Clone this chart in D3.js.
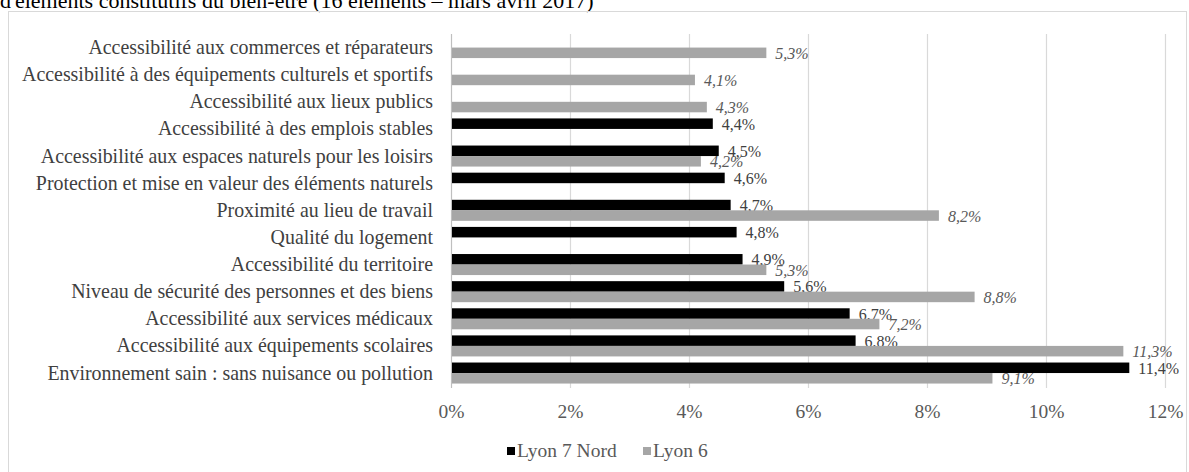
<!DOCTYPE html>
<html><head><meta charset="utf-8">
<script src="https://cdn.jsdelivr.net/npm/d3@7"></script>
<style>body{margin:0;background:#fff;}svg{display:block;}</style>
</head><body>
<script>
const categories = [
  "Accessibilité aux commerces et réparateurs",
  "Accessibilité à des équipements culturels et sportifs",
  "Accessibilité aux lieux publics",
  "Accessibilité à des emplois stables",
  "Accessibilité aux espaces naturels pour les loisirs",
  "Protection et mise en valeur des éléments naturels",
  "Proximité au lieu de travail",
  "Qualité du logement",
  "Accessibilité du territoire",
  "Niveau de sécurité des personnes et des biens",
  "Accessibilité aux services médicaux",
  "Accessibilité aux équipements scolaires",
  "Environnement sain : sans nuisance ou pollution"
];
const lyon7Nord = [null, null, null, 4.4, 4.5, 4.6, 4.7, 4.8, 4.9, 5.6, 6.7, 6.8, 11.4];
const lyon6 = [5.3, 4.1, 4.3, null, 4.2, null, 8.2, null, 5.3, 8.8, 7.2, 11.3, 9.1];
const seriesNames = ["Lyon 7 Nord", "Lyon 6"];
const tickValues = [0, 2, 4, 6, 8, 10, 12];
const titleText = "d'éléments constitutifs du bien-être (16 éléments – mars avril 2017)";

const W = 1189, H = 472;
const svg = d3.select("body").append("svg").attr("width", W).attr("height", H)
  .style("font-family", '"Liberation Serif", "DejaVu Serif", serif');

// title (cut at top)
svg.append("text").attr("x", 0).attr("y", 8)
  .attr("font-size", 22).attr("fill", "#000").text(titleText);

// chart border
svg.append("rect").attr("x", 8.5).attr("y", 11.5).attr("width", 1178).attr("height", 470)
  .attr("fill", "none").attr("stroke", "#d9d9d9");

const x = d3.scaleLinear().domain([0, 12]).range([451, 1165]);
const y = d3.scaleBand().domain(categories).range([34, 386.6]).paddingInner(0.225).paddingOuter(0.1125);
const sub = d3.scaleBand().domain(seriesNames).range([0, y.bandwidth()]);
const colors = { "Lyon 7 Nord": "#000000", "Lyon 6": "#a6a6a6" };

// gridlines
svg.append("g").selectAll("line").data(tickValues.slice(1)).join("line")
  .attr("x1", d => x(d) + 0.5).attr("x2", d => x(d) + 0.5)
  .attr("y1", 34).attr("y2", 388).attr("stroke", "#d9d9d9").attr("stroke-width", 1.2);
svg.append("line").attr("x1", x(0) + 0.5).attr("x2", x(0) + 0.5).attr("y1", 34).attr("y2", 388)
  .attr("stroke", "#bfbfbf").attr("stroke-width", 1.2);

// axis tick labels
const xAxis = d3.axisBottom(x).tickValues(tickValues).tickSize(0).tickFormat(d => d + "%");
const ax = svg.append("g").attr("transform", "translate(0,401)").call(xAxis);
ax.attr("font-family", null);
ax.select(".domain").remove();
ax.selectAll("text").attr("font-size", 19.5).attr("fill", "#595959").attr("dy", "0.71em");

// category labels
svg.append("g").selectAll("text").data(categories).join("text")
  .attr("x", 433).attr("y", d => y(d) + y.bandwidth() / 2 + 6.5)
  .attr("text-anchor", "end").attr("font-size", 19.9)
  .attr("fill", "#404040").text(d => d);

const fmt = v => v.toFixed(1).replace(".", ",") + "%";
const series = [
  { name: "Lyon 7 Nord", values: lyon7Nord, italic: false, labelColor: "#404040" },
  { name: "Lyon 6", values: lyon6, italic: true, labelColor: "#595959" }
];
series.forEach(s => {
  const data = categories.map((c, i) => ({ c, v: s.values[i] })).filter(d => d.v != null);
  const g = svg.append("g");
  g.selectAll("rect").data(data).join("rect")
    .attr("x", x(0) + 1).attr("y", d => y(d.c) + sub(s.name))
    .attr("width", d => x(d.v) - x(0) - 1).attr("height", sub.bandwidth())
    .attr("fill", colors[s.name]);
  g.selectAll("text").data(data).join("text")
    .attr("x", d => x(d.v) + 9).attr("y", d => y(d.c) + sub(s.name) + sub.bandwidth() / 2 + 6)
    .attr("font-size", 16)
    .attr("font-style", s.italic ? "italic" : "normal")
    .attr("fill", s.labelColor).text(d => fmt(d.v));
});

// legend
const legendX = [507, 643];
seriesNames.forEach((n, i) => {
  svg.append("rect").attr("x", legendX[i]).attr("y", 447).attr("width", 8).attr("height", 8).attr("fill", colors[n]);
  svg.append("text").attr("x", legendX[i] + 10).attr("y", 457)
    .attr("font-size", 19.5).attr("fill", "#595959").text(n);
});
</script>
</body></html>
